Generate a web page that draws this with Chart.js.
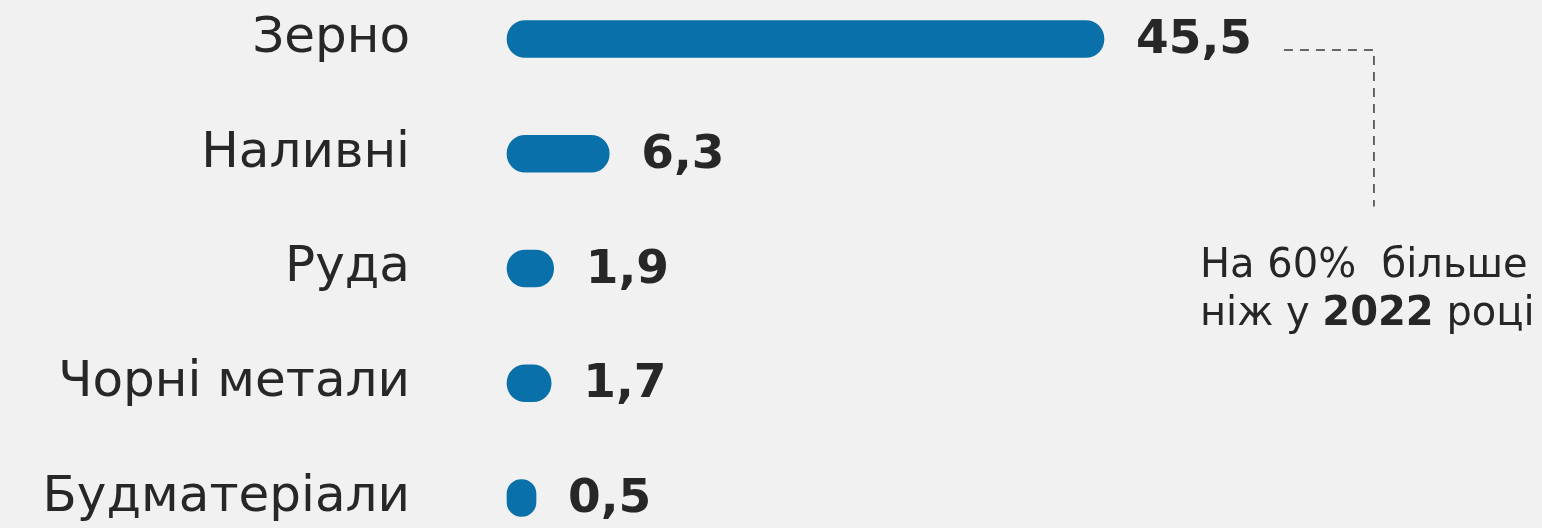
<!DOCTYPE html>
<html>
<head>
<meta charset="utf-8">
<script src="https://cdn.jsdelivr.net/npm/chart.js@4"></script>
<style>
  html, body { margin: 0; padding: 0; background: #f1f1f1; overflow: hidden; }
  #wrap { width: 1542px; height: 528px; position: relative; }
</style>
</head>
<body>
<div id="wrap"><canvas id="cargo-chart"></canvas></div>
<script>
// Cargo volumes, million tonnes
const cargoLabels = ['Зерно', 'Наливні', 'Руда', 'Чорні метали', 'Будматеріали'];
const cargoValues = [45.5, 6.3, 1.9, 1.7, 0.5];
const noteLine1 = 'На 60%  більше';
const noteLine2 = ['ніж у ', '2022', ' році'];

const FONT = '"DejaVu Sans", sans-serif';
const TEXT_COLOR = '#272727';
const BAR_COLOR = '#0a70aa';
const BAR_BASE = -1.8;

function fmtValue(v) {
    return v.toFixed(1).replace('.', ',');
}

// value labels at bar end + the dashed note
const cargoLabelPlugin = {
    id: 'cargoLabels',
    afterDatasetsDraw(chart) {
        const ctx = chart.ctx;
        const meta = chart.getDatasetMeta(0);
        ctx.save();
        ctx.fillStyle = TEXT_COLOR;
        ctx.font = `bold 47px ${FONT}`;
        ctx.textAlign = 'left';
        ctx.textBaseline = 'middle';
        let firstEnd = 0;
        meta.data.forEach((bar, i) => {
            const txt = fmtValue(cargoValues[i]);
            ctx.fillText(txt, bar.x + 32, bar.y + 2);
            if (i === 0) firstEnd = bar.x + 32 + ctx.measureText(txt).width;
        });

        // dashed connector
        const b0 = meta.data[0];
        const b2 = meta.data[2];
        const lineY = b0.y + 11;
        const startX = firstEnd + 32;
        const cornerX = startX + 90;
        ctx.strokeStyle = '#3a3a3a';
        ctx.lineWidth = 1.5;
        ctx.setLineDash([9, 7]);
        ctx.beginPath();
        ctx.moveTo(startX, lineY);
        ctx.lineTo(cornerX, lineY);
        ctx.lineTo(cornerX, b2.y - 62);
        ctx.stroke();
        ctx.setLineDash([]);

        // note text
        const noteX = cornerX - 174;
        ctx.textBaseline = 'alphabetic';
        ctx.fillStyle = '#262626';
        ctx.font = `40px ${FONT}`;
        ctx.fillText(noteLine1, noteX, b2.y + 8);
        let x = noteX;
        noteLine2.forEach((part, i) => {
            ctx.font = (i === 1 ? 'bold ' : '') + `40px ${FONT}`;
            ctx.fillText(part, x, b2.y + 56);
            x += ctx.measureText(part).width;
        });
        ctx.restore();
    }
};

new Chart(document.getElementById('cargo-chart'), {
    type: 'bar',
    data: {
        labels: cargoLabels,
        datasets: [{
            data: cargoValues,
            base: BAR_BASE,
            backgroundColor: BAR_COLOR,
            borderWidth: 0,
            borderRadius: 20,
            borderSkipped: false,
            barThickness: 37,
            clip: false
        }]
    },
    options: {
        indexAxis: 'y',
        responsive: true,
        maintainAspectRatio: false,
        animation: false,
        layout: { padding: { left: 0, right: 255, top: 39, bottom: 30 } },
        plugins: {
            legend: { display: false },
            tooltip: { enabled: false }
        },
        scales: {
            x: {
                display: false,
                min: BAR_BASE,
                max: 60
            },
            y: {
                offset: false,
                grid: { display: false, drawTicks: false },
                border: { display: false },
                ticks: {
                    color: TEXT_COLOR,
                    font: { family: FONT, size: 50 },
                    padding: 97
                },
                afterFit: (scale) => {
                    scale.width = 507;
                    scale.paddingTop = 0;
                    scale.paddingBottom = 0;
                }
            }
        }
    },
    plugins: [cargoLabelPlugin]
});
</script>
</body>
</html>
